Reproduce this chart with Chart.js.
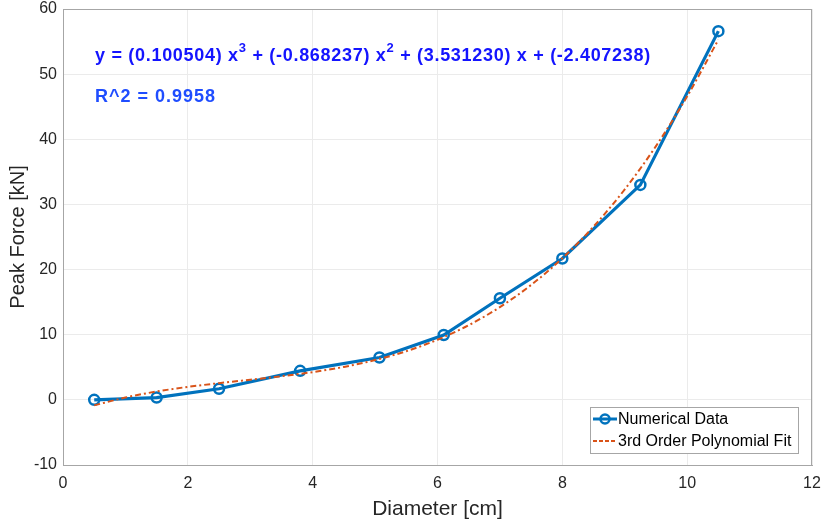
<!DOCTYPE html>
<html lang="en">
<head>
    <meta charset="UTF-8">
    <title>Peak Force vs Diameter</title>
    <script src="https://cdn.jsdelivr.net/npm/chart.js"></script>
    <style>
        html, body {
            margin: 0;
            padding: 0;
            background: #fff;
        }
        .wrap {
            width: 825px;
            height: 524px;
        }
    </style>
</head>
<body>
    <div class="wrap">
        <canvas id="forceChart" width="825" height="524"></canvas>
    </div>
    <script>
        // Numerical data
        const diameter = [0.5, 1.5, 2.5, 3.8, 5.07, 6.1, 7.0, 8.0, 9.25, 10.5];
        const peakForce = [0.0, 0.35, 1.7, 4.45, 6.5, 9.95, 15.6, 21.7, 33.0, 56.6];

        // 3rd order fit, sampled along the curve
        const fitX = [0.5, 1, 1.5, 2, 2.5, 3, 3.5, 4, 4.5, 5, 5.5, 6, 6.5, 7, 7.5, 8, 8.5, 9, 9.5, 10, 10.5];
        const fitY = [-0.85, 0.36, 1.28, 1.99, 2.56, 3.09, 3.63, 4.26, 5.06, 6.11, 7.47, 9.23, 11.46, 14.24, 17.64, 21.73, 26.60, 32.31, 38.95, 46.59, 55.29];

        const xTicks = [0, 2, 4, 6, 8, 10, 12];
        const yTicks = [-10, 0, 10, 20, 30, 40, 50, 60];

        const blue = '#0072bd';
        const orange = '#d95319';
        const axisGray = '#a6a6a6';
        const textColor = '#262626';
        const fontFamily = '"Liberation Sans", Arial, sans-serif';

        // box round the plot + annotation text + legend
        const decorations = {
            id: 'decorations',
            afterDraw(chart) {
                const ctx = chart.ctx;
                const a = chart.chartArea;
                ctx.save();
                ctx.strokeStyle = axisGray;
                ctx.lineWidth = 1;
                ctx.strokeRect(a.left + 0.5, a.top + 0.5, a.right - a.left - 1, a.bottom - a.top);

                // equation
                ctx.letterSpacing = '0.7px';
                ctx.fillStyle = '#1414ff';
                ctx.textBaseline = 'alphabetic';
                const big = 'bold 18px ' + fontFamily;
                const small = 'bold 13px ' + fontFamily;
                const parts = [
                    ['y = (0.100504) x', big, 0],
                    ['3', small, -9],
                    [' + (-0.868237) x', big, 0],
                    ['2', small, -9],
                    [' + (3.531230) x + (-2.407238)', big, 0]
                ];
                let px = 95;
                parts.forEach(p => {
                    ctx.font = p[1];
                    ctx.fillText(p[0], px, 61 + p[2]);
                    px += ctx.measureText(p[0]).width;
                });
                ctx.fillStyle = '#1f4dff';
                ctx.font = big;
                ctx.letterSpacing = '1px';
                ctx.fillText('R^2 = 0.9958', 95, 102);
                ctx.letterSpacing = '0px';

                // legend
                const lx = 590, ly = 407, lw = 208, lh = 46;
                ctx.fillStyle = '#fff';
                ctx.fillRect(lx, ly, lw, lh);
                ctx.strokeStyle = axisGray;
                ctx.strokeRect(lx + 0.5, ly + 0.5, lw, lh);

                ctx.strokeStyle = blue;
                ctx.lineWidth = 3;
                ctx.beginPath();
                ctx.moveTo(593, 419);
                ctx.lineTo(617, 419);
                ctx.stroke();
                ctx.lineWidth = 2.5;
                ctx.beginPath();
                ctx.arc(605, 419, 4.5, 0, Math.PI * 2);
                ctx.stroke();

                ctx.strokeStyle = orange;
                ctx.lineWidth = 1.8;
                ctx.setLineDash([4, 2]);
                ctx.beginPath();
                ctx.moveTo(593, 441);
                ctx.lineTo(617, 441);
                ctx.stroke();
                ctx.setLineDash([]);

                ctx.fillStyle = '#000';
                ctx.font = '16px ' + fontFamily;
                ctx.textBaseline = 'middle';
                ctx.fillText('Numerical Data', 618, 420);
                ctx.fillText('3rd Order Polynomial Fit', 618, 442);
                ctx.restore();
            }
        };

        const ctx = document.getElementById('forceChart').getContext('2d');
        new Chart(ctx, {
            type: 'line',
            data: {
                datasets: [{
                    label: 'Numerical Data',
                    data: diameter.map((d, i) => ({ x: d, y: peakForce[i] })),
                    borderColor: blue,
                    borderWidth: 3.2,
                    pointRadius: 5,
                    pointBorderWidth: 2.5,
                    pointBorderColor: blue,
                    pointBackgroundColor: 'rgba(0,0,0,0)',
                    tension: 0,
                    order: 2
                }, {
                    label: '3rd Order Polynomial Fit',
                    data: fitX.map((d, i) => ({ x: d, y: fitY[i] })),
                    borderColor: orange,
                    borderWidth: 2,
                    borderDash: [6, 3, 2, 3],
                    pointRadius: 0,
                    cubicInterpolationMode: 'monotone',
                    order: 1
                }]
            },
            options: {
                responsive: false,
                animation: false,
                layout: {
                    padding: { left: 0, right: 13, top: 9, bottom: 0 }
                },
                plugins: {
                    legend: { display: false },
                    tooltip: { enabled: false }
                },
                scales: {
                    x: {
                        type: 'linear',
                        min: 0,
                        max: 12,
                        afterBuildTicks: s => { s.ticks = xTicks.map(v => ({ value: v })); },
                        afterFit: s => {
                            s.height = 59;
                            s.paddingLeft = 0;
                            s.paddingRight = 0;
                        },
                        grid: { color: '#ebebeb', tickLength: 0 },
                        border: { color: axisGray },
                        ticks: {
                            color: textColor,
                            padding: 9,
                            maxRotation: 0,
                            font: { family: fontFamily, size: 16 }
                        },
                        title: {
                            display: true,
                            text: 'Diameter [cm]',
                            color: textColor,
                            padding: { top: 0, bottom: 2 },
                            font: { family: fontFamily, size: 21 }
                        }
                    },
                    y: {
                        min: -10,
                        max: 60,
                        afterBuildTicks: s => { s.ticks = yTicks.map(v => ({ value: v })); },
                        afterFit: s => {
                            s.width = 63;
                            s.paddingTop = 0;
                            s.paddingBottom = 0;
                        },
                        grid: { color: '#ebebeb', tickLength: 0 },
                        border: { color: axisGray },
                        ticks: {
                            color: textColor,
                            padding: 6,
                            font: { family: fontFamily, size: 16 }
                        },
                        title: {
                            display: true,
                            text: 'Peak Force [kN]',
                            color: textColor,
                            padding: { top: 6, bottom: 0 },
                            font: { family: fontFamily, size: 20 }
                        }
                    }
                }
            },
            plugins: [decorations]
        });
    </script>
</body>
</html>
